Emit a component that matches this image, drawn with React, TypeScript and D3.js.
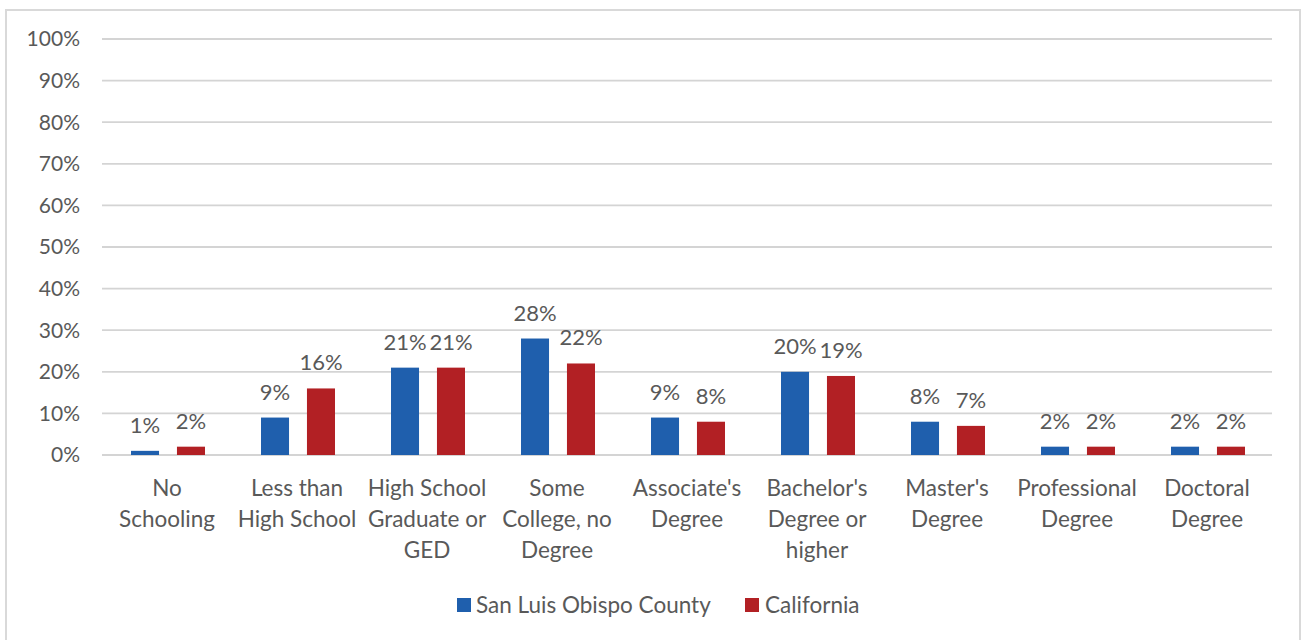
import React from "react";
import * as d3 from "d3";

const categories = [
  "No\nSchooling",
  "Less than\nHigh School",
  "High School\nGraduate or\nGED",
  "Some\nCollege, no\nDegree",
  "Associate's\nDegree",
  "Bachelor's\nDegree or\nhigher",
  "Master's\nDegree",
  "Professional\nDegree",
  "Doctoral\nDegree",
];
const seriesNames = ["San Luis Obispo County", "California"];
const sloValues = [1, 9, 21, 28, 9, 20, 8, 2, 2];
const caValues = [2, 16, 21, 22, 8, 19, 7, 2, 2];
const yTicks = [0, 10, 20, 30, 40, 50, 60, 70, 80, 90, 100];
const colors = ["#1F5FAD", "#B22024"];

const W = 1302;
const H = 640;
const FONT = "Lato, 'Open Sans', sans-serif";
const TEXT = "#595959";

export default function App() {
  const left = 102;
  const right = 1272;
  const top = 39;
  const bottom = 455;

  const x = d3.scaleBand<string>().domain(categories).range([left, right]).padding(0);
  const inner = d3
    .scaleBand<number>()
    .domain([0, 1])
    .range([0, 74])
    .paddingInner(0.39)
    .paddingOuter(0);
  const y = d3.scaleLinear().domain([0, 100]).range([bottom, top]);
  const series = [sloValues, caValues];
  const pairOffset = (x.bandwidth() - 74) / 2 + 1;

  return (
    <svg
      width={W}
      height={H}
      style={{ position: "absolute", left: 0, top: 0, background: "#fff" }}
    >
      <rect x={0} y={0} width={W} height={H} fill="#fff" />
      {/* frame */}
      <path d={`M6,${H} V10 H1300 V${H}`} fill="none" stroke="#d9d9d9" strokeWidth={2} />

      {/* gridlines and y labels */}
      {yTicks.map((t) => (
        <g key={t}>
          <line
            x1={left}
            x2={right}
            y1={y(t)}
            y2={y(t)}
            stroke="#d4d4d4"
            strokeWidth={1.8}
          />
          <text
            x={80}
            y={y(t)}
            dy="0.35em"
            textAnchor="end"
            fontFamily={FONT}
            fontSize={21}
            fill={TEXT}
          >
            {t}%
          </text>
        </g>
      ))}

      {/* bars */}
      {series.map((vals, si) =>
        categories.map((c, i) => {
          const bx = (x(c) as number) + pairOffset + (inner(si) as number);
          const by = y(vals[i]);
          return (
            <g key={`${si}-${i}`}>
              <rect
                x={bx}
                y={by}
                width={inner.bandwidth()}
                height={bottom - by}
                fill={colors[si]}
              />
              <text
                x={bx + inner.bandwidth() / 2}
                y={by - 18}
                textAnchor="middle"
                fontFamily={FONT}
                fontSize={22}
                fill={TEXT}
              >
                {vals[i]}%
              </text>
            </g>
          );
        })
      )}

      {/* category labels */}
      {categories.map((c) => (
        <text
          key={c}
          x={(x(c) as number) + x.bandwidth() / 2}
          y={496}
          textAnchor="middle"
          fontFamily={FONT}
          fontSize={22.5}
          fill={TEXT}
        >
          {c.split("\n").map((line, li) => (
            <tspan key={li} x={(x(c) as number) + x.bandwidth() / 2} dy={li === 0 ? 0 : 31}>
              {line}
            </tspan>
          ))}
        </text>
      ))}

      {/* legend */}
      <g>
        <rect x={457} y={598} width={14} height={14} fill={colors[0]} />
        <text x={476} y={605} dy="0.35em" fontFamily={FONT} fontSize={22.5} fill={TEXT}>
          {seriesNames[0]}
        </text>
        <rect x={745} y={598} width={14} height={14} fill={colors[1]} />
        <text x={765} y={605} dy="0.35em" fontFamily={FONT} fontSize={22.5} fill={TEXT}>
          {seriesNames[1]}
        </text>
      </g>
    </svg>
  );
}
